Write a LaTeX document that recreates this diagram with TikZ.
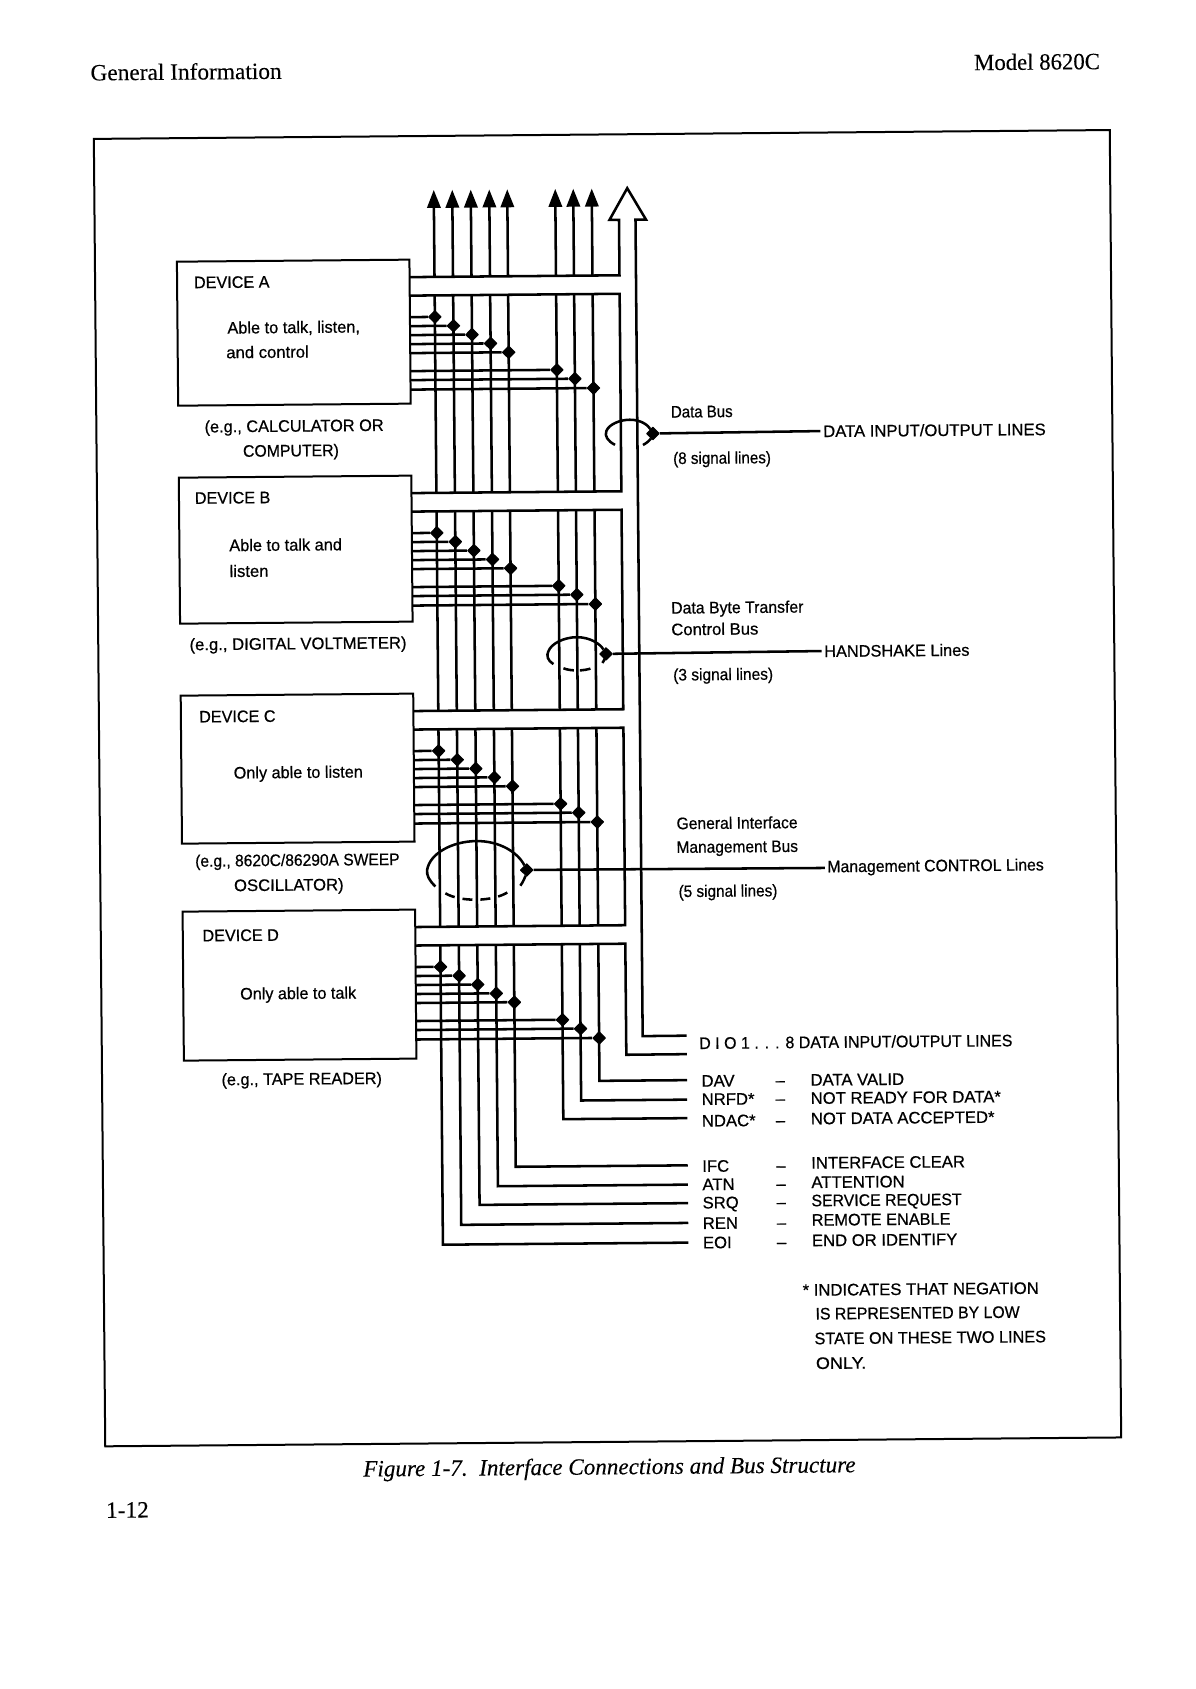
\documentclass[tikz,border=0pt]{standalone}
\usepackage{fontspec}
\usetikzlibrary{calc,arrows.meta,shapes.geometric}
\newfontfamily\labelfont[FakeBold=0.6]{Liberation Sans}
\newfontfamily\pagefont[FakeBold=0.15]{Liberation Serif}

\begin{document}
\begin{tikzpicture}[x=0.75pt,y=-0.75pt]

\tikzstyle{bus}=[line width=1.9pt]
\tikzstyle{frame}=[line width=1.5pt]
\tikzstyle{device}=[draw,line width=1.5pt,anchor=north west,minimum width=174.4pt,outer sep=0pt,inner sep=0pt]
\tikzstyle{tap}=[diamond,fill,draw,line width=0.8pt,line join=round,inner sep=0pt,minimum size=9.6pt]
\tikzstyle{lbl}=[font=\labelfont\fontsize{12.5}{14}\selectfont,anchor=base west,yshift=-4.5pt,xshift=-2pt,inner sep=0pt,outer sep=2pt]
\tikzstyle{lblc}=[lbl,anchor=base,xshift=2pt]
\tikzstyle{head}=[font=\pagefont\fontsize{17.5}{20}\selectfont,anchor=base west,yshift=-4.5pt,inner sep=0pt]

\useasboundingbox (0,0) rectangle (1196,1689);

\begin{scope}[rotate around={0.5:(598,845)},every node/.append style={transform shape}]

\node (page) [head] at (97,70) {General Information};
\node (model) [head,anchor=base east,xscale=.975] at (1107,67.5) {Model 8620C};
\node (pageno) [head] at (100,1507.5) {1-12};
\node (caption) [head,anchor=base,xscale=.99,font=\pagefont\itshape\fontsize{17.5}{20}\selectfont] at (604,1468.5) {Figure 1-7.\enspace Interface Connections and Bus Structure};

\draw [frame] (100,134.5) rectangle (1116,1442);

% devices and their taps
\node (devA) [device,minimum height=108pt] at (182,258) {};
\node (devB) [device,minimum height=109.5pt] at (182,474) {};
\node (devC) [device,minimum height=111pt] at (182,692) {};
\node (devD) [device,minimum height=111.75pt] at (182,908) {};

\foreach \n/\t in {A/258,B/474,C/692,D/908} {
  \coordinate (railU\n) at (414.5,\t+17.5);
  \coordinate (railL\n) at (414.5,\t+36);
  \coordinate (up\n) at (624.5,\t+17.5);
  \coordinate (low\n) at (624.5,\t+36);
  \foreach \i/\x/\o in {1/439.5/57.5,2/458/66.5,3/476.5/75.5,4/495/84.5,5/513/93.5,6/561/111.5,7/579/120.5,8/597.5/130} {
    \coordinate (up\n\i) at (\x,\t+17.5);
    \coordinate (low\n\i) at (\x,\t+36);
    \coordinate (stub\n\i) at (414.5,\t+\o);
    \node (tap\n\i) [tap] at (\x,\t+\o) {};
    \draw [bus] (stub\n\i) -- (tap\n\i);
  }
}

% bus lines between the devices
\foreach \n/\m in {A/B,B/C,C/D} {
  \draw [bus] (railL\n) -- (low\n) -- (up\m) -- (railU\m);
  \foreach \i in {1,...,8} {
    \draw [bus] (low\n\i) -- (up\m\i);
  }
}

% arrows at the top
\foreach \i/\x in {1/439.5,2/458,3/476.5,4/495,5/513,6/561,7/579,8/597.5} {
  \coordinate (top\i) at (\x,188.5);
  \draw [bus,-{Triangle[length=13.5pt,width=10pt]}] (upA\i) -- (top\i);
}

% the hollow arrow, ending at the data lines
\coordinate (endDIOa) at (685,1036.5);
\coordinate (endDIOb) at (685,1055);
\draw [bus] (railUA) -- (upA) -- ++(0,-55.5) -- ++(-9.5,0) -- ++(18,-31.5) -- ++(18.5,31.5) -- ++(-10.5,0) -- (641,1036.5) -- (endDIOa);
\draw [bus] (railLD) -- (lowD) -- (624.5,1055) -- (endDIOb);

% the loops round the three buses
\node (tapData) [tap] at (656.5,434) {};
\node (lblData) [lbl] at (826.8,433) {DATA INPUT/OUTPUT LINES};
\draw [bus] (tapData) -- (lblData.west);
\draw [bus] (618.5,445) .. controls (611,441) and (608,436) .. (610,431) .. controls (613,424) and (624,420) .. (633.5,420) .. controls (645,420) and (652,426) .. (tapData);
\draw [bus] (646.5,445.4) .. controls (651,443) and (654,440) .. (tapData);

\node (tapHand) [tap] at (607.7,654) {};
\node (lblHand) [lbl,xscale=.98] at (826,653) {HANDSHAKE Lines};
\draw [bus] (tapHand) -- (lblHand.west);
\draw [bus] (555,663.7) .. controls (549,660) and (548,655) .. (550,651) .. controls (553,643) and (566,637) .. (578.4,637) .. controls (592,637) and (602,644) .. (tapHand);
\draw [bus] (604,663) .. controls (606,660) and (607,657) .. (tapHand);
\draw [bus,dash pattern=on 8pt off 4.5pt] (565,668) .. controls (572,671) and (586,671) .. (593.4,668);

\node (tapMan) [tap] at (526.5,869.4) {};
\node (lblMan) [lbl,xscale=.95] at (827.3,868.3) {Management CONTROL Lines};
\draw [bus] (tapMan) -- (lblMan.west);
\draw [bus] (435,885) .. controls (429,879) and (426,874) .. (427,868) .. controls (430,852) and (452,840) .. (476.5,840) .. controls (500,840) and (518,852) .. (tapMan);
\draw [bus] (520,885) .. controls (523,881) and (525,876) .. (tapMan);
\draw [bus,dash pattern=on 7.5pt off 6pt] (445,892) .. controls (460,901) and (493,901) .. (508,891);

% texts of the devices
\node (nameA) [lbl,xscale=.97] at (199,278.7) {DEVICE A};
\node (textA1) [lbl,xscale=.98] at (232,324.4) {Able to talk, listen,};
\node (textA2) [lbl] at (230.6,349) {and control};
\node (egA1) [lblc,xscale=.98] at (297.8,423) {(e.g., CALCULATOR OR};
\node (egA2) [lblc,xscale=.95] at (294.4,447.7) {COMPUTER)};
\node (nameB) [lbl,xscale=.97] at (198,494.3) {DEVICE B};
\node (textB1) [lbl,xscale=.98] at (232,542) {Able to talk and};
\node (textB2) [lbl] at (232,567.8) {listen};
\node (egB) [lblc,xscale=1.0] at (299.8,640.7) {(e.g., DIGITAL VOLTMETER)};
\node (nameC) [lbl,xscale=.97] at (200.4,713) {DEVICE C};
\node (textC) [lbl,xscale=.975] at (234.4,769.4) {Only able to listen};
\node (egC1) [lblc,xscale=.935] at (297.3,857.2) {(e.g., 8620C/86290A SWEEP};
\node (egC2) [lblc] at (288.5,882) {OSCILLATOR)};
\node (nameD) [lbl,xscale=.97] at (201.8,931.9) {DEVICE D};
\node (textD) [lbl,xscale=.97] at (239,990.4) {Only able to talk};
\node (egD) [lblc,xscale=.975] at (299.7,1076) {(e.g., TAPE READER)};

% texts of the buses
\node (busData1) [lbl,xscale=.9] at (675,412.2) {Data Bus};
\node (busData2) [lbl,xscale=.91] at (676.8,458.7) {(8 signal lines)};
\node (busHand1) [lbl,xscale=.95] at (673.4,608.3) {Data Byte Transfer};
\node (busHand2) [lbl] at (673.2,629.9) {Control Bus};
\node (busHand3) [lbl,xscale=.93] at (674.9,675.2) {(3 signal lines)};
\node (busMan1) [lbl,xscale=.94] at (676.9,823.9) {General Interface};
\node (busMan2) [lbl,xscale=.93] at (676.7,847.6) {Management Bus};
\node (busMan3) [lbl,xscale=.92] at (678.4,891.8) {(5 signal lines)};
\node (nameDIO) [lbl,xscale=.96] at (697.6,1043.9) {D I O 1 . . . 8 DATA INPUT/OUTPUT LINES};

% the signal lines and their names
\foreach \n/\s/\d/\w/\i/\yl/\yd/\ye in {DAV/DAV/DATA VALID/1/8/1081.6/1081.5/1081,
  NRFD/NRFD*/NOT READY FOR DATA*/1/7/1099.9/1099.8/1100.5,
  NDAC/NDAC*/NOT DATA ACCEPTED*/1/6/1121.5/1120.2/1119,
  IFC/IFC/INTERFACE CLEAR/1/5/1166.8/1164.5/1166.2,
  ATN/ATN/ATTENTION/1/4/1185.1/1183.9/1185.5,
  SRQ/SRQ/SERVICE REQUEST/.95/3/1203.4/1202.2/1204,
  REN/REN/REMOTE ENABLE/.98/2/1223.9/1221.6/1223.8,
  EOI/EOI/END OR IDENTIFY/1/1/1243.3/1242.1/1243.5} {
  \node (name\n) [lbl] at (699.5,\yl) {\s};
  \node (dash\n) [lbl] at (773.5,\yl) {–};
  \node (desc\n) [lbl,xscale=\w] at (808.5,\yd) {\d};
  \coordinate (end\n) at (685,\ye);
  \coordinate (corner\n) at ($(lowD\i)+(0,\ye-944)$);
  \draw [bus] (lowD\i) -- (corner\n) -- (end\n);
}

\node (note1) [lbl] at (798.8,1291.6) {* INDICATES THAT NEGATION};
\node (note2) [lbl,xscale=.95] at (811.6,1315.4) {IS REPRESENTED BY LOW};
\node (note3) [lbl,xscale=.975] at (810.3,1340.2) {STATE ON THESE TWO LINES};
\node (note4) [lbl,xscale=1.08] at (811.2,1364.9) {ONLY.};

\end{scope}

\end{tikzpicture}
\end{document}
